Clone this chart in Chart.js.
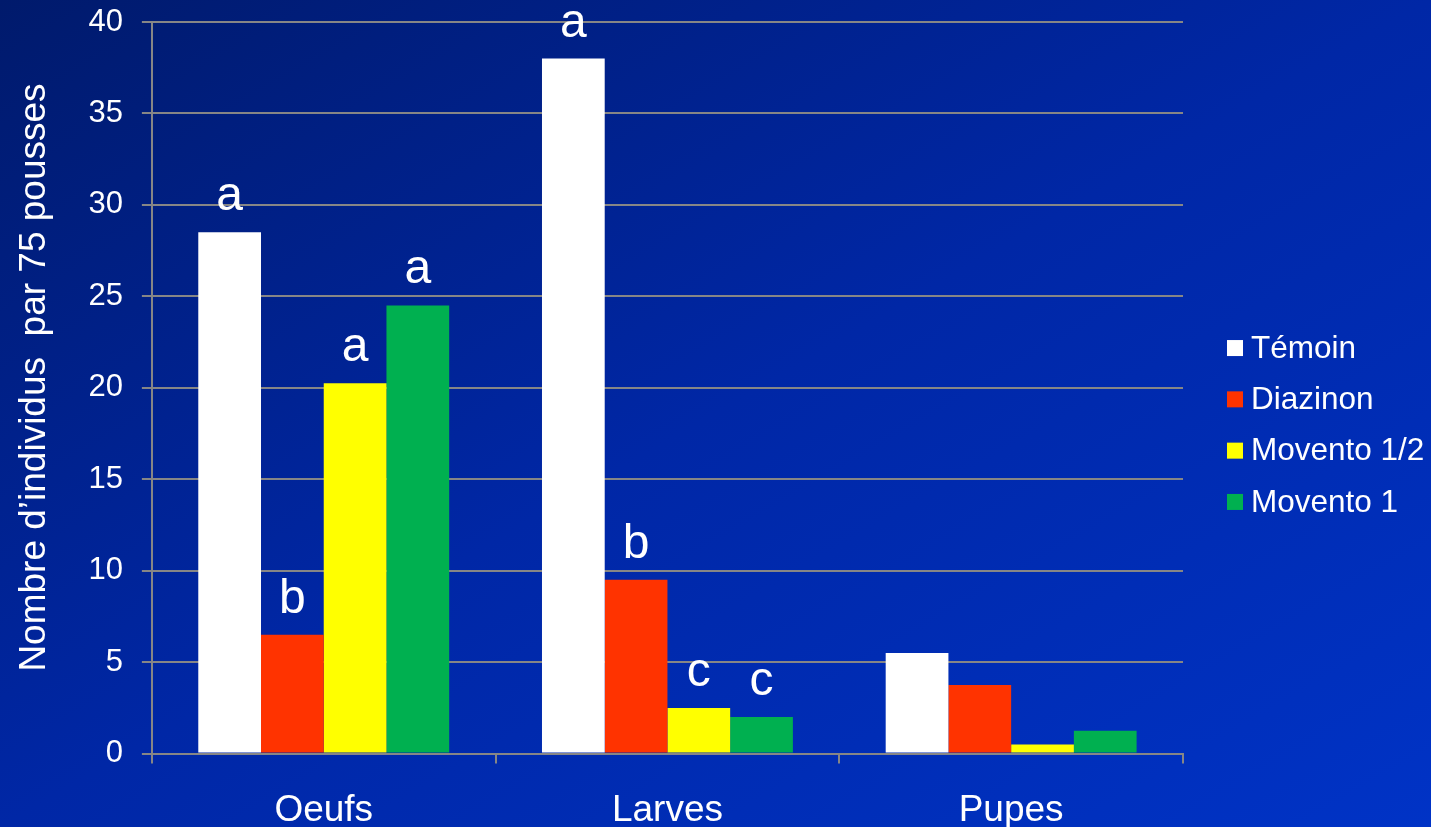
<!DOCTYPE html>
<html>
<head>
<meta charset="utf-8">
<script src="https://cdn.jsdelivr.net/npm/chart.js@4/dist/chart.umd.min.js"></script>
<style>
	html, body {
		margin: 0;
		padding: 0;
	}
	body {
		width: 1431px;
		height: 827px;
		overflow: hidden;
		background: linear-gradient(to bottom right, #001a6c 0%, #0027a6 50%, #0033c6 100%);
	}
	canvas {
		display: block;
	}
</style>
</head>
<body>
<canvas id="ChartCanvas" width="1431" height="827"></canvas>
<script>
// Data
const categories = ["Oeufs", "Larves", "Pupes"];
const seriesNames = ["Témoin", "Diazinon", "Movento 1/2", "Movento 1"];
const seriesColors = ["#ffffff", "#ff3300", "#ffff00", "#00b050"];

const temoin = [28.5, 38, 5.5];
const diazinon = [6.5, 9.5, 3.75];
const movento12 = [20.25, 2.5, 0.5];
const movento1 = [24.5, 2, 1.25];

// Significance letters written above bars ("" = none)
const temoinLetters = ["a", "a", ""];
const diazinonLetters = ["b", "b", ""];
const movento12Letters = ["a", "c", ""];
const movento1Letters = ["a", "c", ""];

const yTicks = [0, 5, 10, 15, 20, 25, 30, 35, 40];
// leading spaces nudge the title up a little along the axis, like the original
const yTitle = "  Nombre d\u2019individus  par 75 pousses";

const FONT = "'Liberation Sans', Arial, sans-serif";
const GRID = "#868686";

const seriesValues = [temoin, diazinon, movento12, movento1];
const seriesLetters = [temoinLetters, diazinonLetters, movento12Letters, movento1Letters];

// Draws the a/b/c letters above each bar
const letterPlugin = {
	id: "letters",
	afterDatasetsDraw: function (chart) {
		const ctx = chart.ctx;
		ctx.save();
		ctx.fillStyle = "#ffffff";
		ctx.font = "48px " + FONT;
		ctx.textAlign = "center";
		ctx.textBaseline = "alphabetic";
		chart.data.datasets.forEach(function (ds, i) {
			const meta = chart.getDatasetMeta(i);
			meta.data.forEach(function (bar, j) {
				const txt = seriesLetters[i][j];
				if (txt) {
					ctx.fillText(txt, bar.x, bar.y - 22);
				}
			});
		});
		ctx.restore();
	},
};

// Legend on the right, small squares with a tight gap before the text
const legendPlugin = {
	id: "sideLegend",
	afterDraw: function (chart) {
		const ctx = chart.ctx;
		const rowGap = 51.3;
		const centerY = 425;
		const boxX = 1227;
		const box = 16;
		ctx.save();
		ctx.font = "31.5px " + FONT;
		ctx.textBaseline = "middle";
		ctx.textAlign = "left";
		chart.data.datasets.forEach(function (ds, i) {
			const y = centerY + (i - (chart.data.datasets.length - 1) / 2) * rowGap;
			ctx.fillStyle = ds.backgroundColor;
			ctx.fillRect(boxX, y - box / 2, box, box);
			ctx.fillStyle = "#ffffff";
			ctx.fillText(ds.label, boxX + box + 8, y + 1);
		});
		ctx.restore();
	},
};

const chart = new Chart(document.getElementById("ChartCanvas").getContext("2d"), {
	type: "bar",
	data: {
		labels: categories,
		datasets: seriesNames.map(function (name, i) {
			return {
				label: name,
				data: seriesValues[i],
				backgroundColor: seriesColors[i],
				borderWidth: 0,
				barPercentage: 1,
				categoryPercentage: 0.73,
			};
		}),
	},
	options: {
		responsive: false,
		animation: false,
		devicePixelRatio: 1,
		layout: {
			padding: { top: 22, right: 248, bottom: -31, left: 0 },
		},
		plugins: {
			legend: { display: false },
			tooltip: { enabled: false },
		},
		scales: {
			x: {
				grid: {
					offset: true,
					drawOnChartArea: false,
					drawTicks: true,
					tickLength: 10,
					color: GRID,
					lineWidth: 2,
				},
				border: { color: GRID, width: 2 },
				ticks: {
					color: "#ffffff",
					font: { family: FONT, size: 37 },
					padding: 25,
				},
			},
			y: {
				min: 0,
				max: 40,
				afterBuildTicks: function (axis) {
					axis.ticks = yTicks.map(function (v) {
						return { value: v };
					});
				},
				grid: {
					color: GRID,
					lineWidth: 2,
					tickLength: 10,
				},
				border: { color: GRID, width: 2 },
				ticks: {
					color: "#ffffff",
					// small lineHeight keeps the top/bottom label overflow from pushing the plot in
					font: { family: FONT, size: 31, lineHeight: 0.1 },
					padding: 19,
				},
				title: {
					display: true,
					text: yTitle,
					color: "#ffffff",
					font: { family: FONT, size: 37 },
					padding: { top: 13, bottom: 12 },
				},
			},
		},
	},
	plugins: [letterPlugin, legendPlugin],
});
</script>
</body>
</html>
